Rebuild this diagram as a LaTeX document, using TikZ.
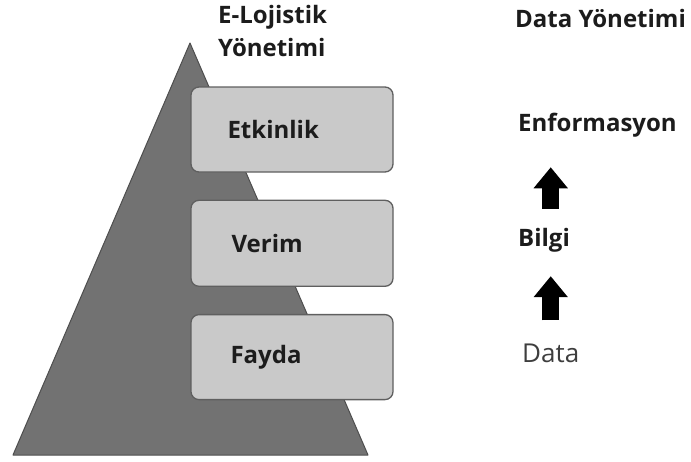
\documentclass[tikz,border=0pt]{standalone}
\usepackage{fontspec}
\setmainfont{Open Sans}
\usetikzlibrary{arrows.meta,positioning,calc}
\definecolor{pyr}{HTML}{727272}
\definecolor{pyredge}{HTML}{4E4E4E}
\definecolor{boxfill}{HTML}{C9C9C9}
\definecolor{boxedge}{HTML}{5F5F5F}
\definecolor{ink}{HTML}{1C1C1C}
\tikzset{
  lvl/.style  = {draw=boxedge, fill=boxfill, line width=1.3pt, rounded corners=8pt,
                 minimum width=202pt, inner sep=0pt},
  lvltxt/.style = {anchor=west, inner sep=0pt, font=\fontsize{24}{28}\selectfont\bfseries, text=ink},
  head/.style = {anchor=west, inner sep=0pt, align=left, font=\fontsize{24}{33}\selectfont\bfseries, text=ink},
  stage/.style= {anchor=west, inner sep=0pt, font=\fontsize{24}{28}\selectfont\bfseries, text=ink},
  blk/.style  = {-{Triangle[width=33pt,length=21pt]}, line width=17pt, black}
}
\begin{document}
\begin{tikzpicture}[x=1pt, y=-1pt]
  \useasboundingbox (0,0) rectangle (691,461);
  % pyramid
  \draw[draw=pyredge, fill=pyr, line width=1pt, line join=round] (190,43) -- (368,455) -- (13,455) -- cycle;
  \node[head] (elog) at (218,31) {E-Lojistik\\Yönetimi};
  % levels
  \node[lvl, minimum height=85pt] (etk) at (292,129.5) {};
  \node[lvl, minimum height=86pt, below=27pt of etk] (ver) {};
  \node[lvl, minimum height=85pt, below=27pt of ver] (fay) {};
  \node[lvltxt] (etkt) at ([xshift=37pt]etk.west) {Etkinlik};
  \node[lvltxt] (vert) at ([xshift=41pt]ver.west) {Verim};
  \node[lvltxt] (fayt) at ([xshift=40pt]fay.west) {Fayda};
  % data side
  \node[stage] (dy)   at (515,18)  {Data Yönetimi};
  \node[stage] (enf)  at (518,125) {Enformasyon};
  \node[stage] (bil)  at (518,240) {Bilgi};
  \node[stage, font=\fontsize{26}{30}\selectfont, text=ink!85] (dat) at (522,353) {Data};
  \draw[blk, shorten <=19pt, shorten >=30pt] (bil.north -| dat.north) -- (enf.south -| dat.north);
  \draw[blk, shorten <=23pt, shorten >=24pt] (dat.north) -- (bil.south -| dat.north);
\end{tikzpicture}
\end{document}
